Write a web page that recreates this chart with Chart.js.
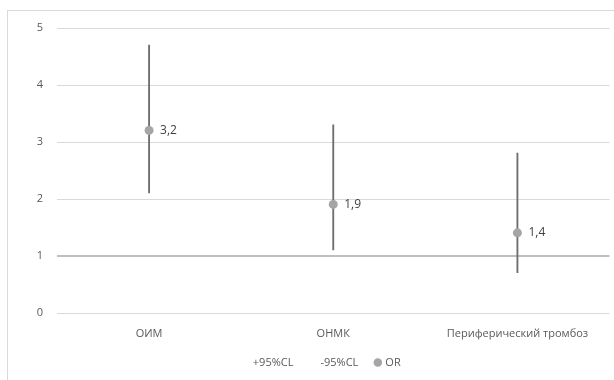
<!DOCTYPE html>
<html>
<head>
<meta charset="utf-8">
<script src="https://cdn.jsdelivr.net/npm/chart.js@4/dist/chart.umd.min.js"></script>
<style>
  html, body { margin: 0; padding: 0; background: #fff; }
  #wrap { position: relative; width: 614px; height: 380px; }
</style>
</head>
<body>
<div id="wrap"><canvas id="orChart"></canvas></div>
<script>
// categories and values
const categories = ['ОИМ', 'ОНМК', 'Периферический тромбоз'];
const oddsRatio = [3.2, 1.9, 1.4];
const upperCL = [4.7, 3.3, 2.8];
const lowerCL = [2.1, 1.1, 0.7];
const orLabels = ['3,2', '1,9', '1,4'];

const FONT = '"Open Sans", "Noto Sans", sans-serif';

// outer frame like the Excel chart border
const framePlugin = {
    id: 'frame',
    beforeDraw(chart) {
        const ctx = chart.ctx;
        ctx.save();
        ctx.strokeStyle = '#d9d9d9';
        ctx.lineWidth = 1;
        ctx.strokeRect(7.5, 10.5, 800, 600);
        ctx.restore();
    }
};

// horizontal gridlines at the y ticks, the line at 1 is heavier
const gridPlugin = {
    id: 'hgrid',
    beforeDatasetsDraw(chart) {
        const { ctx, chartArea, scales } = chart;
        const y = scales.y;
        ctx.save();
        y.ticks.forEach(t => {
            const isOne = t.value === 1;
            const py = isOne ? Math.round(y.getPixelForValue(t.value))
                             : Math.round(y.getPixelForValue(t.value)) + 0.5;
            ctx.beginPath();
            ctx.strokeStyle = isOne ? '#bfbfbf' : '#d9d9d9';
            ctx.lineWidth = isOne ? 2 : 1;
            ctx.moveTo(chartArea.left, py);
            ctx.lineTo(chartArea.right, py);
            ctx.stroke();
        });
        ctx.restore();
    }
};

// "3,2" style labels right of the OR points
const valueLabels = {
    id: 'valueLabels',
    afterDatasetsDraw(chart) {
        const meta = chart.getDatasetMeta(2);
        const ctx = chart.ctx;
        ctx.save();
        ctx.font = '12px ' + FONT;
        ctx.fillStyle = '#404040';
        ctx.textAlign = 'left';
        ctx.textBaseline = 'middle';
        meta.data.forEach((pt, i) => {
            ctx.fillText(orLabels[i], pt.x + 11, pt.y);
        });
        ctx.restore();
    }
};

const ctx = document.getElementById('orChart').getContext('2d');
new Chart(ctx, {
    type: 'bar',
    data: {
        labels: categories,
        datasets: [
            {
                type: 'line',
                label: '+95%CL',
                data: upperCL,
                showLine: false,
                pointRadius: 0,
                backgroundColor: 'rgba(0,0,0,0)',
                borderColor: 'rgba(0,0,0,0)',
                order: 1
            },
            {
                type: 'line',
                label: '-95%CL',
                data: lowerCL,
                showLine: false,
                pointRadius: 0,
                backgroundColor: 'rgba(0,0,0,0)',
                borderColor: 'rgba(0,0,0,0)',
                order: 1
            },
            {
                type: 'line',
                label: 'OR',
                data: oddsRatio,
                showLine: false,
                pointRadius: 4.5,
                pointHoverRadius: 4.5,
                pointStyle: 'circle',
                backgroundColor: '#a5a5a5',
                borderColor: '#a5a5a5',
                borderWidth: 0,
                order: 1
            },
            {
                type: 'bar',
                label: 'range',
                data: lowerCL.map((lo, i) => [lo, upperCL[i]]),
                backgroundColor: '#6e6e6e',
                barThickness: 1.2,
                order: 2
            }
        ]
    },
    options: {
        responsive: true,
        maintainAspectRatio: false,
        animation: false,
        layout: { padding: { top: 28, right: 4, left: 34, bottom: 2 } },
        plugins: {
            legend: {
                position: 'bottom',
                labels: {
                    usePointStyle: true,
                    boxWidth: 4,
                    boxHeight: 6,
                    padding: 17.5,
                    color: '#595959',
                    font: { family: FONT, size: 11 },
                    filter: item => item.datasetIndex !== 3
                }
            },
            tooltip: { enabled: false }
        },
        scales: {
            x: {
                offset: true,
                grid: { display: false, drawTicks: false },
                border: { display: false },
                ticks: {
                    padding: 15,
                    color: '#595959',
                    font: { family: FONT, size: 11 }
                },
                afterFit(scale) { scale.height = 27; }
            },
            y: {
                min: 0,
                max: 5,
                ticks: {
                    stepSize: 1,
                    padding: 14,
                    color: '#595959',
                    font: { family: FONT, size: 11 }
                },
                grid: { display: false, drawTicks: false },
                border: { display: false },
                afterFit(scale) { scale.width = 23; }
            }
        }
    },
    plugins: [framePlugin, gridPlugin, valueLabels]
});
</script>
</body>
</html>
